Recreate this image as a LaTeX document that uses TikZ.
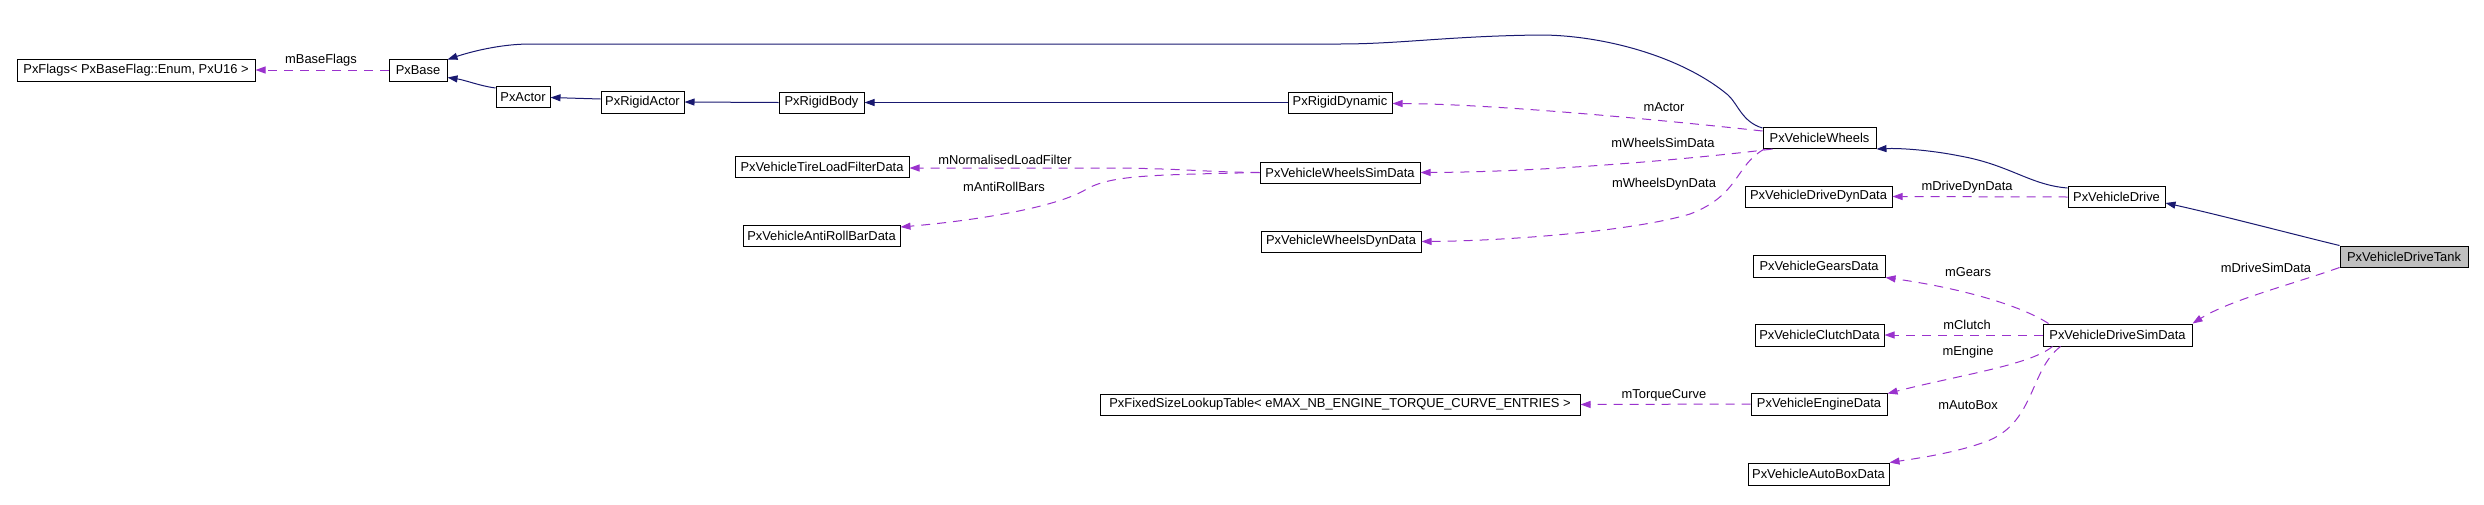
\documentclass[tikz,border=0pt]{standalone}
\usepackage{fontspec}
\setmainfont{Liberation Sans}
\usetikzlibrary{arrows.meta}
\definecolor{edgeblue}{HTML}{191970}
\definecolor{edgepurple}{HTML}{9A32CD}
\definecolor{tankgray}{HTML}{BFBFBF}
\begin{document}
\begin{tikzpicture}[x=1pt,y=-1pt,
  cls/.style={draw=black, line width=1pt, fill=white, inner sep=0pt, minimum height=21pt, font=\fontsize{12.9}{14}\selectfont, anchor=center},
  inh/.style={draw=edgeblue, line width=1pt, -{Triangle[length=10pt,width=7pt]}},
  usage/.style={draw=edgepurple, line width=1pt, dash pattern=on 9pt off 7pt, -{Triangle[length=10pt,width=7pt]}},
  lbl/.style={inner sep=0pt, font=\fontsize{12.9}{14}\selectfont, anchor=center}]
\useasboundingbox (0,0) rectangle (2484,504);
% nodes
\node[cls, minimum width=238pt, minimum height=22pt] (flags) at (136,70) {PxFlags< PxBaseFlag::Enum, PxU16 >};
\node[cls, minimum width=58pt, minimum height=22pt] (base) at (418,70) {PxBase};
\node[cls, minimum width=54pt] (actor) at (523,97) {PxActor};
\node[cls, minimum width=83pt, minimum height=22pt] (ractor) at (642.5,102) {PxRigidActor};
\node[cls, minimum width=85pt] (rbody) at (821.5,102.5) {PxRigidBody};
\node[cls, minimum width=104pt] (rdyn) at (1340,102.5) {PxRigidDynamic};
\node[cls, minimum width=113pt] (wheels) at (1819.5,138) {PxVehicleWheels};
\node[cls, minimum width=174pt] (tirelf) at (822,167) {PxVehicleTireLoadFilterData};
\node[cls, minimum width=160pt] (wsim) at (1340,172.5) {PxVehicleWheelsSimData};
\node[cls, minimum width=157pt] (arb) at (821.5,236) {PxVehicleAntiRollBarData};
\node[cls, minimum width=160pt] (wdyn) at (1341,241.5) {PxVehicleWheelsDynData};
\node[cls, minimum width=147pt] (ddyn) at (1818.5,196.5) {PxVehicleDriveDynData};
\node[cls, minimum width=97pt] (drive) at (2116.5,197) {PxVehicleDrive};
\node[cls, minimum width=128pt, fill=tankgray] (tank) at (2404,256.5) {PxVehicleDriveTank};
\node[cls, minimum width=132pt, minimum height=22pt] (gears) at (1819,266) {PxVehicleGearsData};
\node[cls, minimum width=129pt, minimum height=22pt] (clutch) at (1819.5,335) {PxVehicleClutchData};
\node[cls, minimum width=149pt, minimum height=22pt] (dsim) at (2117.5,335) {PxVehicleDriveSimData};
\node[cls, minimum width=480pt] (lookup) at (1340,404.5) {PxFixedSizeLookupTable< eMAX\_NB\_ENGINE\_TORQUE\_CURVE\_ENTRIES >};
\node[cls, minimum width=136pt, minimum height=22pt] (engine) at (1819,404) {PxVehicleEngineData};
\node[cls, minimum width=141pt, minimum height=22pt] (autobox) at (1818.5,474) {PxVehicleAutoBoxData};
% inheritance edges
\draw[inh] ([yshift=-1pt]wheels.north west) .. controls (1742,122) and (1738,104) .. (1728,95)
  .. controls (1680,55) and (1600,35) .. (1540,35)
  .. controls (1450,36) and (1400,44) .. (1340,44) -- (530,44)
  .. controls (500,44) and (470,52) .. ([yshift=-1pt]base.north east);
\draw[inh] ([yshift=-2pt]actor.north west) .. controls (480,86) and (465,80) .. ([yshift=4pt]base.south east);
\draw[inh] ([yshift=3pt]ractor.west) -- ([yshift=-0.5pt]actor.east);
\draw[inh] (rbody.west) -- (ractor.east);
\draw[inh] (rdyn.west) -- (rbody.east);
\draw[inh] ([yshift=-2pt]drive.north west) .. controls (2030,185) and (2010,165) .. (1960,156)
  .. controls (1930,150) and (1900,148) .. (wheels.south east);
\draw[inh] (tank.north west) .. controls (2300,236) and (2220,215) .. ([yshift=-6pt]drive.east);
% usage edges
\draw[usage] (base.west) -- (flags.east);
\draw[usage] ([yshift=-4pt]wheels.north west) .. controls (1680,122) and (1500,104) .. ([yshift=-1pt]rdyn.east);
\draw[usage] ([xshift=10pt]wheels.south west) .. controls (1700,158) and (1550,172) .. (wsim.east);
\draw[usage] ([xshift=2pt]wheels.south west) .. controls (1735,165) and (1740,195) .. (1690,214)
  .. controls (1630,232) and (1500,241) .. (wdyn.east);
\draw[usage] (wsim.west) .. controls (1200,172) and (1180,168) .. (1100,168) -- ([yshift=-1pt]tirelf.east);
\draw[usage] (wsim.west) .. controls (1150,175) and (1110,175) .. (1085,190)
  .. controls (1050,210) and (960,222) .. ([yshift=-2pt]arb.north east);
\draw[usage] (drive.west) -- (ddyn.east);
\draw[usage] (tank.south west) .. controls (2290,285) and (2230,300) .. (dsim.north east);
\draw[usage] ([xshift=6pt]dsim.north west) .. controls (2020,305) and (1960,288) .. (gears.south east);
\draw[usage] (dsim.west) -- (clutch.east);
\draw[usage] ([xshift=10pt]dsim.south west) .. controls (2030,365) and (1960,375) .. ([yshift=-1pt]engine.north east);
\draw[usage] ([xshift=18pt]dsim.south west) .. controls (2030,370) and (2035,420) .. (1990,440)
  .. controls (1960,452) and (1920,458) .. (autobox.north east);
\draw[usage] (engine.west) -- (lookup.east);
% labels
\node[lbl] (lbaseflags) at (321,60) {mBaseFlags};
\node[lbl] (lactor) at (1664,107) {mActor};
\node[lbl] (lwsim) at (1663,143) {mWheelsSimData};
\node[lbl] (lwdyn) at (1664,184) {mWheelsDynData};
\node[lbl] (lnorm) at (1005,160) {mNormalisedLoadFilter};
\node[lbl] (larb) at (1004,187) {mAntiRollBars};
\node[lbl] (lddyn) at (1967,187) {mDriveDynData};
\node[lbl] (ldsim) at (2266,268) {mDriveSimData};
\node[lbl] (lgears) at (1968,272) {mGears};
\node[lbl] (lclutch) at (1967,325) {mClutch};
\node[lbl] (lengine) at (1968,352) {mEngine};
\node[lbl] (ltorque) at (1664,395) {mTorqueCurve};
\node[lbl] (lautobox) at (1968,405) {mAutoBox};
\end{tikzpicture}
\end{document}
